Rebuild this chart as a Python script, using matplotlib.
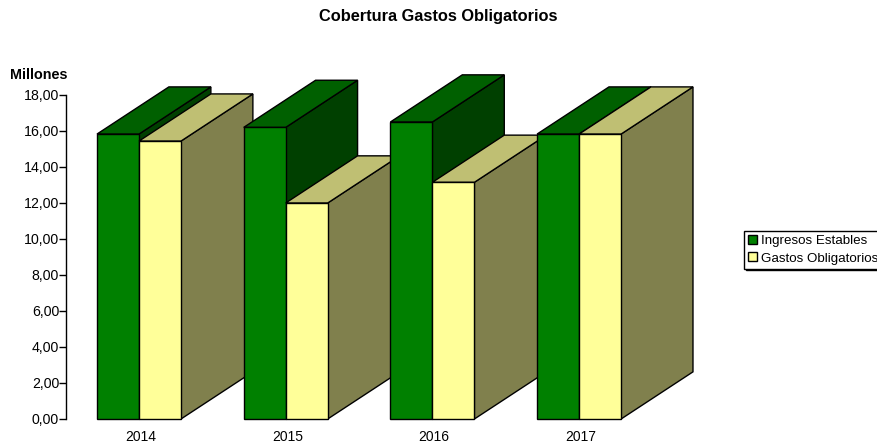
import numpy as np
import matplotlib
matplotlib.use('Agg')
import matplotlib.pyplot as plt
from matplotlib.patches import Patch, Polygon

plt.rcParams['font.family'] = ['Liberation Sans', 'DejaVu Sans']

# valores (millones)
years = ['2014', '2015', '2016', '2017']
ingresos = [15.83, 16.2, 16.5, 15.83]
gastos = [15.44, 12.0, 13.15, 15.83]
yticks = np.arange(0, 19, 2)

W, H = 878, 443
fig = plt.figure(figsize=(W / 100, H / 100), dpi=100)
# el eje va de x=66 al borde derecho, y de y=419 al borde de arriba
ax = fig.add_axes([66 / W, (H - 419) / H, (W - 66) / W, 419 / H])
ax.set_xlim(0, (W - 66) / 146.7)
ax.set_ylim(0, 419 / 18)

bar_w = 0.2863
start = 0.2113
depth_x = 0.49
depth_y = 2.62


def bar3d(x0, val, front, top, side, z):
    x1 = x0 + bar_w
    dx, dy = depth_x, depth_y
    pieces = [
        ([(x1, 0), (x1 + dx, dy), (x1 + dx, val + dy), (x1, val)], side),
        ([(x0, val), (x1, val), (x1 + dx, val + dy), (x0 + dx, val + dy)], top),
        ([(x0, 0), (x1, 0), (x1, val), (x0, val)], front),
    ]
    for pts, col in pieces:
        ax.add_patch(Polygon(pts, closed=True, facecolor=col, edgecolor='black',
                             linewidth=1, joinstyle='miter', zorder=z, clip_on=False))


for i in range(len(years)):
    x = start + i
    bar3d(x, ingresos[i], '#008000', '#006000', '#004000', 2 + i * 2)
    bar3d(x + bar_w, gastos[i], '#FFFF99', '#BFBF73', '#80804D', 3 + i * 2)

for s in ['top', 'right', 'bottom']:
    ax.spines[s].set_visible(False)
ax.spines['left'].set_bounds(0, 18)
ax.spines['left'].set_linewidth(1)
ax.patch.set_visible(False)

ax.set_yticks(yticks)
ax.set_yticklabels([('%.2f' % v).replace('.', ',') for v in yticks], fontsize=10.2, color='black')
ax.tick_params(axis='y', length=5, width=1, pad=0)
ax.set_xticks([start + bar_w + 0.012 + i for i in range(len(years))])
ax.set_xticklabels(years, fontsize=10)
ax.tick_params(axis='x', length=0, pad=8)

fig.text(438 / W, 1 - 16 / H, 'Cobertura Gastos Obligatorios', ha='center', va='center',
         fontsize=11.8, fontweight='bold')
fig.text(10 / W, 1 - 75 / H, 'Millones', ha='left', va='center', fontsize=10.4, fontweight='bold')

handles = [Patch(facecolor='#008000', edgecolor='black', linewidth=1, label='Ingresos Estables'),
           Patch(facecolor='#FFFF99', edgecolor='black', linewidth=1, label='Gastos Obligatorios')]
leg = fig.legend(handles=handles, loc='upper left', bbox_to_anchor=(744 / W, 1 - 231 / H),
                 fontsize=9.6, frameon=True, fancybox=False,
                 shadow={'color': 'black', 'alpha': 1, 'ox': 1.2, 'oy': -1.2},
                 framealpha=1, edgecolor='black', handlelength=0.65, handleheight=0.65,
                 handletextpad=0.35, labelspacing=0.4, borderpad=0.3, borderaxespad=0)
leg.get_frame().set_linewidth(1)

fig.savefig('out.png', dpi=100, facecolor='white')
